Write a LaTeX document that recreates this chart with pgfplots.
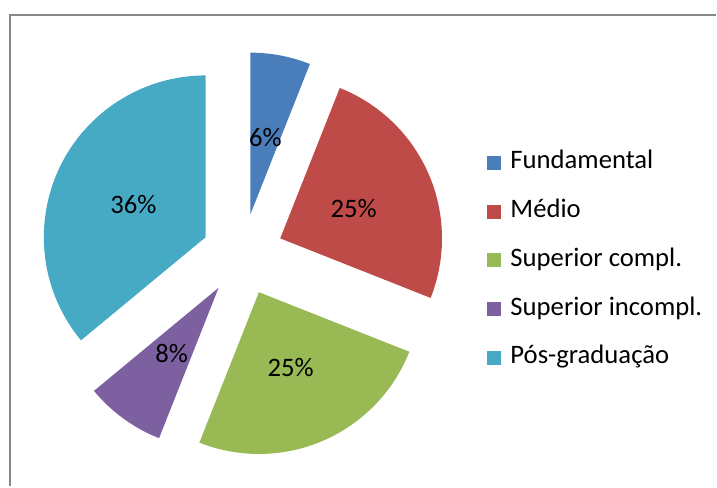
\documentclass[border=0pt]{standalone}
\usepackage{pgfplots}
\pgfplotsset{compat=1.18}
\usepackage{pgfplotstable}
\usepackage{fontspec}
\setmainfont{Carlito}
\definecolor{c0}{HTML}{4A7EBB}
\definecolor{c1}{HTML}{BE4B48}
\definecolor{c2}{HTML}{98B954}
\definecolor{c3}{HTML}{7D60A0}
\definecolor{c4}{HTML}{46AAC5}
\definecolor{framegray}{HTML}{878787}

\pgfplotstableread[col sep=comma]{
name,value
Fundamental,6
Médio,25
Superior compl.,25
Superior incompl.,8
Pós-graduação,36
}\piedata

\begin{document}
\begin{tikzpicture}
% cumulative angles (clockwise from 12 o'clock), exploded slices
\pgfmathsetmacro\cum{0}
\pgfplotsforeachungrouped \i in {0,...,4}{%
  \pgfplotstablegetelem{\i}{value}\of\piedata
  \let\curval\pgfplotsretval
  \pgfmathsetmacro\aS{90-3.6*\cum}%
  \pgfmathsetmacro\cum{\cum+\curval}%
  \pgfmathsetmacro\aE{90-3.6*\cum}%
  \pgfmathsetmacro\aM{(\aS+\aE)/2}%
  \pgfmathsetmacro\ax{243+41*cos(\aM)}%
  \pgfmathsetmacro\ay{232+41*sin(\aM)}%
  \pgfmathsetmacro\lx{\ax+80*cos(\aM)}%
  \pgfmathsetmacro\ly{\ay+80*sin(\aM)-1.5}%
  \expandafter\xdef\csname sa\i\endcsname{\aS}%
  \expandafter\xdef\csname ea\i\endcsname{\aE}%
  \expandafter\xdef\csname ax\i\endcsname{\ax}%
  \expandafter\xdef\csname ay\i\endcsname{\ay}%
  \expandafter\xdef\csname lx\i\endcsname{\lx}%
  \expandafter\xdef\csname ly\i\endcsname{\ly}%
  \expandafter\xdef\csname pv\i\endcsname{\curval}%
}
\begin{axis}[
  width=717bp, height=487bp, scale only axis,
  xmin=0, xmax=717, ymin=0, ymax=487,
  hide axis, clip=false,
  legend image code/.code={\fill[#1] (0bp,-1bp) rectangle (14bp,13bp);},
  legend style={draw=none, fill=none, at={(axis cs:487,336)}, anchor=north west,
    font=\fontsize{26.8}{32}\selectfont, inner sep=0pt,
    nodes={text height=18bp, text depth=6bp, inner sep=0pt, anchor=base west},
    row sep=24.75bp, column sep=10bp},
  legend cell align=left,
]
\path (axis cs:0,0) rectangle (axis cs:717,487);
\draw[framegray, line width=2bp] (axis cs:10,0) -- (axis cs:10,472) -- (axis cs:717,472);
\pgfplotsinvokeforeach{0,...,4}{
  \fill[c#1] (axis cs:\csname ax#1\endcsname,\csname ay#1\endcsname)
    -- ++(\csname sa#1\endcsname:162bp)
    arc[start angle=\csname sa#1\endcsname, end angle=\csname ea#1\endcsname, radius=162bp]
    -- cycle;
  \node[font=\fontsize{26.8}{32}\selectfont, inner sep=0pt]
    at (axis cs:\csname lx#1\endcsname,\csname ly#1\endcsname) {\csname pv#1\endcsname\%};
}
\addlegendimage{fill=c0, draw=none}\addlegendentry{Fundamental}
\addlegendimage{fill=c1, draw=none}\addlegendentry{Médio}
\addlegendimage{fill=c2, draw=none}\addlegendentry{Superior compl.}
\addlegendimage{fill=c3, draw=none}\addlegendentry{Superior incompl.}
\addlegendimage{fill=c4, draw=none}\addlegendentry{Pós-graduação}
\end{axis}
\end{tikzpicture}
\end{document}
